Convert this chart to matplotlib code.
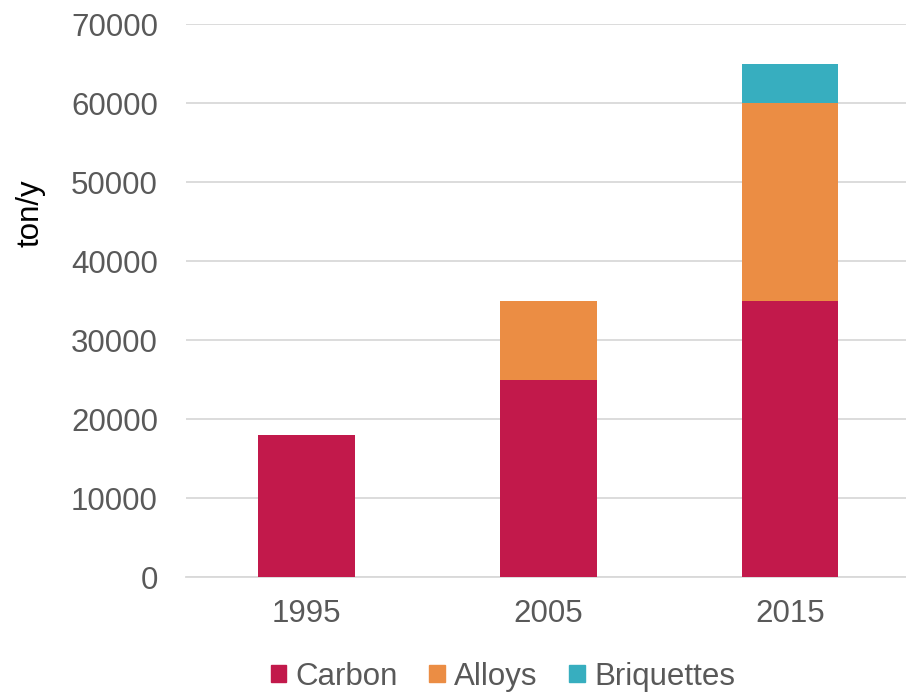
import matplotlib.pyplot as plt
from matplotlib.patches import Patch

years = ["1995", "2005", "2015"]
carbon = [18000, 25000, 35000]
alloys = [0, 10000, 25000]
briquettes = [0, 0, 5000]

COLORS = {"Carbon": "#C2194B", "Alloys": "#EB8D44", "Briquettes": "#37AEBF"}
TEXT = "#595959"

plt.rcParams['font.family'] = ['Liberation Sans', 'DejaVu Sans']


def main():
    fig = plt.figure(figsize=(9.06, 6.92), dpi=100)
    ax = fig.add_axes([0.205, 0.166, 0.795, 0.799])

    x = range(len(years))
    ax.bar(x, carbon, width=0.4, color=COLORS["Carbon"], zorder=3)
    ax.bar(x, alloys, width=0.4, bottom=carbon, color=COLORS["Alloys"], zorder=3)
    base = [c + a for c, a in zip(carbon, alloys)]
    ax.bar(x, briquettes, width=0.4, bottom=base, color=COLORS["Briquettes"], zorder=3)

    ax.set_xlim(-0.5, 2.48)
    ax.set_ylim(0, 70000)
    ax.set_yticks(range(0, 70001, 10000))
    ax.set_xticks(list(x))
    ax.set_xticklabels(years)
    ax.yaxis.grid(True, color='#D9D9D9', linewidth=1.3, zorder=0)
    for side in ['top', 'right', 'left']:
        ax.spines[side].set_visible(False)
    ax.spines['bottom'].set_color('#D9D9D9')
    ax.spines['bottom'].set_linewidth(1.3)
    ax.tick_params(axis='both', length=0, labelsize=22.5, colors=TEXT)
    ax.tick_params(axis='y', pad=20)
    ax.tick_params(axis='x', pad=16)
    ax.set_ylabel('ton/y', fontsize=22.5, color='black')
    ax.yaxis.set_label_coords(-0.194, 0.658)

    handles = [Patch(color=c, label=k) for k, c in COLORS.items()]
    leg = fig.legend(handles=handles, loc='lower center', bbox_to_anchor=(0.555, -0.04),
                     ncol=3, frameon=False, fontsize=22.5, handlelength=0.5, handleheight=0.5,
                     handletextpad=0.3, columnspacing=1.0)
    for t in leg.get_texts():
        t.set_color(TEXT)

    fig.savefig('out.png', dpi=100)
    plt.close(fig)


if __name__ == "__main__":
    main()
